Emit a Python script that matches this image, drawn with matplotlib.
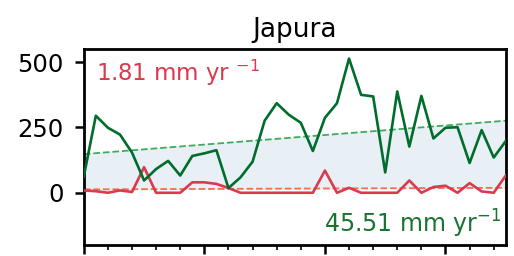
"""Japura: annual series with linear trends and the band between them."""

import matplotlib

matplotlib.use("Agg")
import matplotlib.pyplot as plt
import numpy as np
from matplotlib.ticker import MultipleLocator, NullFormatter

years = np.arange(1980, 2016)

# upper series (green) and lower series (red)
green = [62, 295, 249, 223, 154, 47, 91, 122, 66, 141, 151, 163,
         18, 59, 119, 276, 343, 299, 268, 160, 287, 343, 514, 375,
         369, 78, 388, 177, 371, 208, 249, 251, 114, 240, 135, 198]
red = [9, 6, 0, 9, 3, 98, 0, 0, 0, 40, 40, 34,
       18, 0, 0, 0, 0, 0, 0, 0, 85, 0, 19, 0,
       0, 0, 0, 47, 0, 22, 27, 0, 37, 5, 0, 66]

# trend line end points (start, end)
green_trend = [148, 276]
red_trend = [13, 19]

green_rate = "45.51"
red_rate = "1.81"

fig = plt.figure(figsize=(5.14, 2.56), dpi=100)
ax = fig.add_axes([0.163, 0.043, 0.821, 0.765])

t_ends = [years[0], years[-1]]
g_fit = np.interp(years, t_ends, green_trend)
r_fit = np.interp(years, t_ends, red_trend)

ax.fill_between(years, r_fit, g_fit, color="#e8eff5", zorder=0)
ax.plot(years, g_fit, color="#41ab5d", lw=1.3, ls="--", zorder=2)
ax.plot(years, r_fit, color="#f4704f", lw=1.3, ls="--", zorder=2)
ax.plot(years, red, color="#d93a4e", lw=1.9, zorder=3)
ax.plot(years, green, color="#006d2c", lw=1.9, zorder=4)

ax.text(0.03, 0.955, f"{red_rate} mm yr $^{{-1}}$", transform=ax.transAxes,
        ha="left", va="top", fontsize=16.5, color="#d93a4e")
ax.text(0.99, 0.025, f"{green_rate} mm yr$^{{-1}}$", transform=ax.transAxes,
        ha="right", va="bottom", fontsize=17, color="#1a7431")

ax.set_title("Japura", fontsize=19, pad=9)
ax.set_xlim(years[0], years[-1])
ax.set_ylim(-200, 550)
ax.set_yticks([0, 250, 500])
ax.xaxis.set_major_locator(MultipleLocator(10))
ax.xaxis.set_minor_locator(MultipleLocator(2))
ax.xaxis.set_major_formatter(NullFormatter())
ax.tick_params(axis="y", labelsize=17.5, length=6.5, width=1.8, pad=8)
ax.tick_params(axis="x", which="major", length=6.5, width=1.8)
ax.tick_params(axis="x", which="minor", length=3.5, width=1.2)
for spine in ax.spines.values():
    spine.set_linewidth(2)

fig.savefig("out.png", dpi=100)
plt.close(fig)
